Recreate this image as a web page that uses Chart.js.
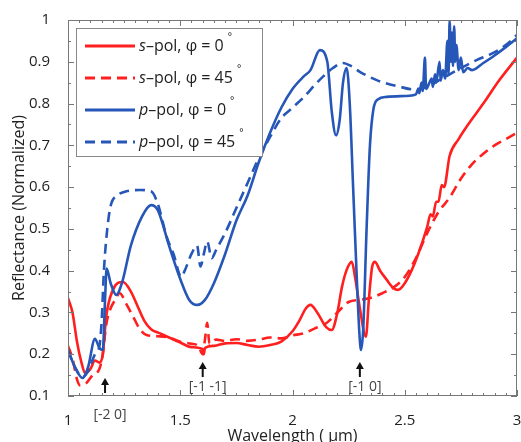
<!DOCTYPE html>
<html>
<head>
<meta charset="utf-8">
<script src="https://cdn.jsdelivr.net/npm/chart.js@4.4.1/dist/chart.umd.min.js"></script>
<style>
  body { margin: 0; background: #fff; }
  #wrap { width: 521px; height: 442px; }
</style>
</head>
<body>
<div id="wrap"><canvas id="reflChart"></canvas></div>
<script>
// s-pol, phi = 0
const s0Wl = [1.00, 1.02, 1.04, 1.06, 1.076, 1.10, 1.12, 1.14, 1.155, 1.17, 1.20, 1.245, 1.28, 1.31, 1.34, 1.37, 1.41, 1.45, 1.50, 1.55, 1.60, 1.605, 1.61, 1.65, 1.70, 1.75, 1.80, 1.85, 1.90, 1.95, 2.00, 2.03, 2.06, 2.08, 2.11, 2.15, 2.175, 2.20, 2.22, 2.24, 2.264, 2.28, 2.30, 2.327, 2.34, 2.355, 2.367, 2.39, 2.42, 2.45, 2.47, 2.50, 2.53, 2.56, 2.60, 2.615, 2.625, 2.64, 2.65, 2.665, 2.675, 2.70, 2.74, 2.78, 2.85, 2.92, 3.00];
const s0R  = [0.334, 0.30, 0.23, 0.18, 0.155, 0.165, 0.185, 0.18, 0.20, 0.29, 0.354, 0.373, 0.35, 0.315, 0.28, 0.26, 0.25, 0.24, 0.228, 0.217, 0.212, 0.20, 0.215, 0.22, 0.226, 0.227, 0.222, 0.218, 0.222, 0.23, 0.255, 0.28, 0.31, 0.318, 0.30, 0.265, 0.258, 0.30, 0.36, 0.40, 0.421, 0.38, 0.31, 0.242, 0.33, 0.41, 0.421, 0.40, 0.378, 0.358, 0.354, 0.37, 0.40, 0.44, 0.505, 0.535, 0.53, 0.565, 0.565, 0.605, 0.60, 0.675, 0.715, 0.748, 0.80, 0.855, 0.91];

// s-pol, phi = 45
const s45Wl = [1.00, 1.02, 1.04, 1.055, 1.08, 1.11, 1.14, 1.155, 1.17, 1.19, 1.21, 1.23, 1.26, 1.29, 1.32, 1.35, 1.40, 1.45, 1.50, 1.55, 1.58, 1.60, 1.61, 1.62, 1.63, 1.66, 1.70, 1.75, 1.80, 1.85, 1.90, 1.95, 2.00, 2.05, 2.10, 2.15, 2.20, 2.25, 2.30, 2.35, 2.40, 2.45, 2.50, 2.55, 2.60, 2.65, 2.70, 2.75, 2.80, 2.85, 2.90, 2.95, 3.00];
const s45R  = [0.22, 0.19, 0.14, 0.125, 0.13, 0.15, 0.165, 0.20, 0.27, 0.31, 0.33, 0.346, 0.32, 0.29, 0.26, 0.246, 0.243, 0.24, 0.23, 0.225, 0.22, 0.20, 0.235, 0.275, 0.225, 0.235, 0.232, 0.236, 0.232, 0.235, 0.24, 0.238, 0.245, 0.25, 0.262, 0.274, 0.30, 0.325, 0.33, 0.335, 0.346, 0.36, 0.385, 0.43, 0.49, 0.54, 0.575, 0.62, 0.655, 0.68, 0.70, 0.715, 0.73];

// p-pol, phi = 0
const p0Wl = [1.00, 1.03, 1.065, 1.09, 1.12, 1.14, 1.155, 1.165, 1.172, 1.19, 1.215, 1.24, 1.28, 1.33, 1.37, 1.40, 1.45, 1.50, 1.54, 1.575, 1.61, 1.65, 1.70, 1.75, 1.80, 1.85, 1.90, 1.95, 2.00, 2.05, 2.08, 2.122, 2.155, 2.175, 2.194, 2.21, 2.225, 2.241, 2.255, 2.27, 2.285, 2.298, 2.305, 2.315, 2.33, 2.345, 2.36, 2.38, 2.42, 2.50, 2.55, 2.56, 2.565, 2.575, 2.58, 2.59, 2.595, 2.61, 2.62, 2.625, 2.635, 2.64, 2.655, 2.66, 2.67, 2.68, 2.69, 2.695, 2.70, 2.705, 2.71, 2.715, 2.72, 2.725, 2.73, 2.74, 2.75, 2.76, 2.78, 2.80, 2.85, 2.90, 2.95, 3.00];
const p0R  = [0.21, 0.17, 0.143, 0.17, 0.237, 0.215, 0.21, 0.33, 0.405, 0.37, 0.342, 0.37, 0.46, 0.53, 0.557, 0.545, 0.46, 0.38, 0.33, 0.318, 0.33, 0.37, 0.44, 0.52, 0.58, 0.66, 0.73, 0.79, 0.835, 0.865, 0.88, 0.928, 0.90, 0.78, 0.724, 0.76, 0.85, 0.885, 0.80, 0.60, 0.40, 0.25, 0.21, 0.26, 0.50, 0.70, 0.785, 0.81, 0.816, 0.818, 0.822, 0.835, 0.825, 0.85, 0.83, 0.91, 0.835, 0.85, 0.86, 0.84, 0.87, 0.85, 0.90, 0.855, 0.88, 0.86, 0.95, 0.87, 1.00, 0.90, 0.97, 0.89, 0.985, 0.90, 0.94, 0.88, 0.91, 0.875, 0.885, 0.88, 0.897, 0.915, 0.935, 0.956];

// p-pol, phi = 45
const p45Wl = [1.00, 1.03, 1.065, 1.09, 1.12, 1.14, 1.15, 1.16, 1.175, 1.19, 1.22, 1.26, 1.32, 1.37, 1.40, 1.44, 1.47, 1.505, 1.52, 1.55, 1.575, 1.59, 1.605, 1.62, 1.64, 1.66, 1.70, 1.75, 1.80, 1.85, 1.90, 1.95, 2.00, 2.05, 2.10, 2.137, 2.18, 2.225, 2.26, 2.30, 2.375, 2.48, 2.537, 2.60, 2.65, 2.70, 2.75, 2.82, 2.89, 2.95, 3.00];
const p45R  = [0.21, 0.17, 0.145, 0.16, 0.20, 0.22, 0.28, 0.40, 0.50, 0.555, 0.58, 0.59, 0.593, 0.59, 0.56, 0.48, 0.44, 0.385, 0.40, 0.44, 0.46, 0.41, 0.44, 0.47, 0.43, 0.45, 0.49, 0.55, 0.61, 0.67, 0.72, 0.765, 0.79, 0.815, 0.845, 0.865, 0.885, 0.897, 0.89, 0.876, 0.856, 0.84, 0.834, 0.84, 0.855, 0.87, 0.885, 0.904, 0.92, 0.94, 0.964];

const xTicks = [1, 1.5, 2, 2.5, 3];
const yTicks = [0.1, 0.2, 0.3, 0.4, 0.5, 0.6, 0.7, 0.8, 0.9, 1];

// diffraction order markers
const orderLabels = ['[-2 0]', '[-1 -1]', '[-1 0]'];
const orderWl = [1.165, 1.60, 2.30];

const RED = '#ff1f1f';
const BLUE = '#2657b8';
const FONT = "'Open Sans', sans-serif";

function toPoints(wl, r) {
  return wl.map((w, i) => ({ x: w, y: r[i] }));
}

const legendItems = [
  { pol: 's', ang: '0', color: RED, dash: [] },
  { pol: 's', ang: '45', color: RED, dash: [10, 6] },
  { pol: 'p', ang: '0', color: BLUE, dash: [] },
  { pol: 'p', ang: '45', color: BLUE, dash: [10, 6] }
];

// frame, inward ticks, legend box and order arrows
const decorPlugin = {
  id: 'decor',
  afterDatasetsDraw(chart) {
    const { ctx, chartArea: a, scales: { x, y } } = chart;
    ctx.save();

    ctx.strokeStyle = '#777';
    ctx.lineWidth = 1;
    ctx.strokeRect(a.left + 0.5, a.top + 0.5, a.right - a.left - 1, a.bottom - a.top - 1);

    ctx.beginPath();
    for (let i = 0; i <= 40; i++) {
      const px = Math.round(x.getPixelForValue(1 + i * 0.05)) + 0.5;
      const len = i % 10 === 0 ? 6 : 3;
      ctx.moveTo(px, a.bottom); ctx.lineTo(px, a.bottom - len);
      ctx.moveTo(px, a.top); ctx.lineTo(px, a.top + len);
    }
    for (let i = 0; i <= 18; i++) {
      const py = Math.round(y.getPixelForValue(0.1 + i * 0.05)) + 0.5;
      const len = i % 2 === 0 ? 6 : 3;
      ctx.moveTo(a.left, py); ctx.lineTo(a.left + len, py);
      ctx.moveTo(a.right, py); ctx.lineTo(a.right - len, py);
    }
    ctx.stroke();

    // arrows + labels
    ctx.fillStyle = '#111';
    ctx.strokeStyle = '#111';
    orderWl.forEach((w, i) => {
      const px = x.getPixelForValue(w);
      const below = i === 0;
      const tip = below ? a.bottom - 18 : a.bottom - 34;
      const base = below ? a.bottom - 3 : a.bottom - 19;
      ctx.lineWidth = 2;
      ctx.beginPath();
      ctx.moveTo(px, base); ctx.lineTo(px, tip + 5);
      ctx.stroke();
      ctx.beginPath();
      ctx.moveTo(px, tip); ctx.lineTo(px - 4, tip + 7); ctx.lineTo(px + 4, tip + 7);
      ctx.closePath();
      ctx.fill();
      ctx.save();
      ctx.fillStyle = '#444';
      ctx.font = '14px ' + FONT;
      ctx.textAlign = 'center';
      ctx.textBaseline = 'middle';
      ctx.fillText(orderLabels[i], px + 5, below ? a.bottom + 19 : a.bottom - 9);
      ctx.restore();
    });

    // legend
    const lx = 76, ly = 28, lw = 186, lh = 128;
    ctx.fillStyle = '#fff';
    ctx.fillRect(lx, ly, lw, lh);
    ctx.strokeStyle = '#888';
    ctx.lineWidth = 1;
    ctx.strokeRect(lx + 0.5, ly + 0.5, lw, lh);
    legendItems.forEach((it, i) => {
      const cy = 46 + i * 32;
      ctx.strokeStyle = it.color;
      ctx.lineWidth = 3;
      ctx.setLineDash(it.dash);
      ctx.beginPath();
      ctx.moveTo(85, cy); ctx.lineTo(135, cy);
      ctx.stroke();
      ctx.setLineDash([]);
      ctx.fillStyle = '#222';
      ctx.textBaseline = 'middle';
      ctx.textAlign = 'left';
      let tx = 139;
      ctx.font = 'italic 16px ' + FONT;
      ctx.fillText(it.pol, tx, cy);
      tx += ctx.measureText(it.pol).width;
      ctx.font = '16px ' + FONT;
      const rest = '\u2013pol, \u03c6 = ' + it.ang;
      ctx.fillText(rest, tx, cy);
      tx += ctx.measureText(rest).width + 4;
      ctx.font = '10px ' + FONT;
      ctx.fillText('\u00b0', tx, cy - 9);
    });

    ctx.restore();
  }
};

new Chart(document.getElementById('reflChart'), {
  type: 'line',
  data: {
    datasets: [
      { label: 's-pol, φ=0°', data: toPoints(s0Wl, s0R), borderColor: RED, borderWidth: 2.6, order: 2 },
      { label: 's-pol, φ=45°', data: toPoints(s45Wl, s45R), borderColor: RED, borderWidth: 2.6, borderDash: [10, 6], order: 3 },
      { label: 'p-pol, φ=0°', data: toPoints(p0Wl, p0R), borderColor: BLUE, borderWidth: 2.6, order: 0 },
      { label: 'p-pol, φ=45°', data: toPoints(p45Wl, p45R), borderColor: BLUE, borderWidth: 2.6, borderDash: [10, 6], order: 1 }
    ]
  },
  options: {
    responsive: true,
    maintainAspectRatio: false,
    animation: false,
    parsing: false,
    elements: {
      point: { radius: 0 },
      line: { cubicInterpolationMode: 'monotone', fill: false }
    },
    layout: { padding: { top: 20, right: 4, left: 0, bottom: 0 } },
    plugins: { legend: { display: false }, tooltip: { enabled: false } },
    scales: {
      x: {
        type: 'linear',
        min: 1,
        max: 3,
        afterBuildTicks: s => { s.ticks = xTicks.map(v => ({ value: v })); },
        afterFit: s => { s.height = 46; s.paddingLeft = 0; s.paddingRight = 0; },
        grid: { display: false },
        border: { display: false },
        ticks: { color: '#222', padding: 8, maxRotation: 0, font: { family: FONT, size: 15 }, callback: v => String(v) },
        title: { display: true, text: 'Wavelength ( \u03bcm)', color: '#222', padding: { top: 0, bottom: -4 }, font: { family: FONT, size: 16 } }
      },
      y: {
        type: 'linear',
        min: 0.1,
        max: 1,
        afterBuildTicks: s => { s.ticks = yTicks.map(v => ({ value: v })); },
        afterFit: s => { s.width = 68; s.paddingTop = 0; s.paddingBottom = 0; },
        grid: { display: false },
        border: { display: false },
        ticks: { color: '#222', padding: 10, font: { family: FONT, size: 15 }, callback: v => String(v) },
        title: { display: true, text: 'Reflectance (Normalized)', color: '#222', padding: { top: 10, bottom: 0 }, font: { family: FONT, size: 16 } }
      }
    }
  },
  plugins: [decorPlugin]
});
</script>
</body>
</html>
